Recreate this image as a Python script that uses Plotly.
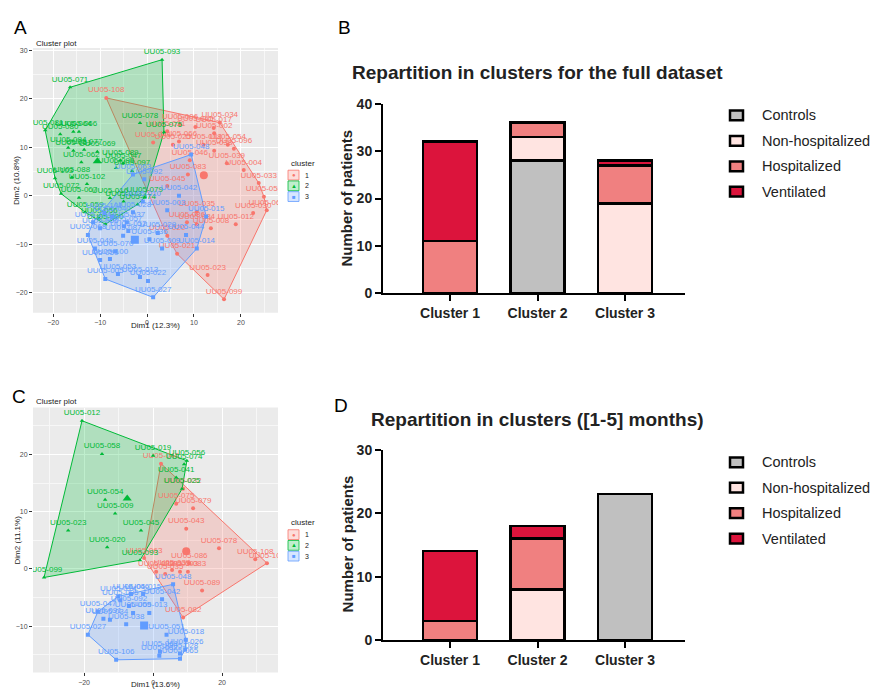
import plotly.graph_objects as go

W, H = 882, 697

# ---------------- DATA ----------------
clusters = ["Cluster 1", "Cluster 2", "Cluster 3"]
groups = ["Controls", "Non-hospitalized", "Hospitalized", "Ventilated"]
group_colors = ["#C0C0C0", "#FFE4E1", "#F08080", "#DC143C"]

full_controls = [0, 28, 0]
full_nonhosp = [0, 5, 19]
full_hosp = [11, 3, 8]
full_vent = [21, 0, 1]

m15_controls = [0, 0, 23]
m15_nonhosp = [0, 8, 0]
m15_hosp = [3, 8, 0]
m15_vent = [11, 2, 0]

# Panel A (full dataset PCA)
a1_lab = ["UU05-108", "UU05-034", "UU05-017", "UU05-002", "UU05-006", "UU05-065", "UU05-031", "UU05-041",
          "UU05-025", "UU05-066", "UU05-018", "UU05-054", "UU05-096", "UU05-038", "UU05-039", "UU05-004",
          "UU05-033", "UU05-058", "UU05-060", "UU05-046", "UU05-083", "UU05-045", "UU05-035", "UU05-012",
          "UU05-030", "UU05-008", "UU05-086", "UU05-084", "UU05-020", "UU05-023", "UU05-099", "UU05-021"]
a1_x = [-8.7, 15.5, 14.2, 14.3, 7.0, 10.3, 4.3, 1.3, 5.5, 6.8, 12.0, 17.2, 18.5, 14.3, 17.0, 20.6,
        23.8, 24.9, 25.5, 9.1, 8.7, 4.3, 10.6, 18.9, 22.6, 13.6, 8.5, 10.6, 4.3, 12.9, 16.4, 6.4]
a1_y = [20.2, 15.1, 14.0, 12.9, 14.7, 14.2, 13.3, 11.0, 10.5, 11.2, 10.5, 10.5, 9.7, 9.3, 6.7, 5.3,
        2.6, -0.2, -3.0, 7.3, 4.4, 2.0, -3.3, -5.9, -3.6, -6.7, -5.5, -5.9, -8.3, -16.4, -21.4, -12.0]

a2_lab = ["UU05-093", "UU05-071", "UU05-078", "UU05-075", "UU05-081", "UU05-080", "UU05-064", "UU05-066",
          "UU05-077", "UU05-061", "UU05-094", "UU05-062", "UU05-089", "UU05-047", "UU05-095", "UU05-069",
          "UU05-103", "UU05-088", "UU05-102", "UU05-072", "UU05-067", "UU05-059", "UU05-090", "UU05-016",
          "UU05-073", "UU05-074", "UU05-079", "UU05-097", "UU05-056"]
a2_x = [3.2, -16.4, -1.5, 3.6, -21.7, -18.5, -15.7, -14.5, -13.4, -15.7, -16.8, -14.0, -5.7, -5.1, -6.6, -10.6,
        -19.6, -16.0, -12.8, -18.3, -14.5, -13.2, -8.9, -7.9, -5.0, -2.0, -0.5, -3.2, -10.2]
a2_y = [28.1, 22.4, 15.0, 13.1, 13.5, 12.7, 13.2, 13.2, 9.5, 9.3, 9.9, 6.9, 7.3, 6.7, 5.7, 9.1,
        3.6, 3.8, 2.4, 0.4, -0.4, -3.4, -5.9, -0.5, -1.2, -1.8, -0.3, 5.1, -4.7]

a3_lab = ["UU05-048", "UU05-092", "UU05-063", "UU05-042", "UU05-015", "UU05-003", "UU05-044", "UU05-014",
          "UU05-029", "UU05-009", "UU05-027", "UU05-022", "UU05-013", "UU05-053", "UU05-005", "UU05-070",
          "UU05-049", "UU05-050", "UU05-100", "UU05-104", "UU05-068", "UU05-037", "UU05-057", "UU05-087",
          "UU05-028", "UU05-010", "UU05-052", "UU05-101", "UU05-040", "UU05-055", "UU05-036"]
a3_x = [9.4, -0.6, -3.0, 6.8, 12.6, 4.3, 8.3, 10.6, 2.3, 3.2, 1.3, 0.2, -1.5, -6.2, -8.9, -6.8,
        -11.1, -10.0, -7.9, -11.5, -12.6, -4.3, -4.9, -5.1, -3.0, -0.9, -4.0, -9.1, -7.4, -10.0, 0.5]
a3_y = [8.5, 3.4, 4.4, 0.0, -4.3, -3.0, -8.1, -10.9, -7.7, -10.9, -21.0, -17.6, -16.8, -16.2, -17.2, -11.5,
        -10.9, -13.3, -13.1, -5.5, -8.1, -5.5, -6.3, -8.3, -3.4, -1.2, -7.3, -3.6, -4.3, -6.7, -9.0]
a_centers_x = [12.1, -10.6, -2.6]
a_centers_y = [4.2, 7.1, -9.1]

# Panel C ([1-5] months PCA)
c1_lab = ["UU05-040", "UU05-032", "UU05-075", "UU05-079", "UU05-043", "UU05-078", "UU05-108", "UU05-107",
          "UU05-033", "UU05-035", "UU05-037", "UU05-003", "UU05-083", "UU05-086", "UU05-089", "UU05-082", "UU05-063"]
c1_x = [2.3, 8.7, 6.7, 11.6, 9.6, 19.1, 29.6, 33.0, 0.9, 3.5, 5.5, 7.8, 10.1, 10.5, 14.2, 8.7, -2.6]
c1_y = [18.4, 14.0, 11.4, 10.6, 7.0, 3.6, 1.7, 1.0, -0.5, -0.9, -0.2, -0.5, -0.5, 1.0, -3.8, -8.5, 1.9]

c2_lab = ["UU05-012", "UU05-058", "UU05-019", "UU05-056", "UU05-074", "UU05-041", "UU05-025", "UU05-054",
          "UU05-009", "UU05-023", "UU05-045", "UU05-020", "UU05-093", "UU05-099"]
c2_x = [-20.6, -14.8, 0.0, 9.8, 9.0, 6.7, 8.4, -13.9, -11.0, -24.6, -3.5, -13.3, -3.8, -31.6]
c2_y = [25.9, 20.1, 19.8, 18.9, 18.3, 16.0, 14.0, 12.1, 9.7, 6.7, 6.7, 3.8, 1.5, -1.5]

c3_lab = ["UU05-048", "UU05-042", "UU05-014", "UU05-046", "UU05-015", "UU05-092", "UU05-013", "UU05-059",
          "UU05-034", "UU05-091", "UU05-038", "UU05-027", "UU05-051", "UU05-018", "UU05-026", "UU05-028",
          "UU05-061", "UU05-062", "UU05-106", "UU05-065", "UU05-047", "UU05-005"]
c3_x = [5.8, 2.6, -10.1, -6.4, -2.9, -7.0, -1.1, -5.8, -12.5, -14.4, -7.8, -18.9, 3.9, 9.5, 9.3, 7.8,
        2.0, 1.8, -10.7, 7.8, -16.0, -9.5]
c3_y = [-2.7, -5.3, -4.8, -4.4, -4.4, -6.5, -7.7, -7.7, -8.9, -8.7, -9.7, -11.5, -11.5, -12.4, -14.1, -14.8,
        -14.5, -15.2, -15.9, -15.7, -7.5, -5.5]
c_centers_x = [9.6, -7.5, -2.6]
c_centers_y = [3.1, 12.3, -9.9]

# ---------------- HELPERS ----------------
def px(x):
    return x / W


def py(y):
    return 1 - y / H


def hull(xs, ys):
    pts = sorted(set(zip(xs, ys)))
    if len(pts) < 3:
        return pts

    def cross(o, a, b):
        return (a[0] - o[0]) * (b[1] - o[1]) - (a[1] - o[1]) * (b[0] - o[0])
    lower, upper = [], []
    for p in pts:
        while len(lower) >= 2 and cross(lower[-2], lower[-1], p) <= 0:
            lower.pop()
        lower.append(p)
    for p in reversed(pts):
        while len(upper) >= 2 and cross(upper[-2], upper[-1], p) <= 0:
            upper.pop()
        upper.append(p)
    h = lower[:-1] + upper[:-1]
    return h + [h[0]]


FONT = "Liberation Sans, Arial, sans-serif"
cl_colors = ["#F8766D", "#00BA38", "#619CFF"]
cl_fill = ["rgba(248,118,109,0.25)", "rgba(0,186,56,0.25)", "rgba(97,156,255,0.25)"]
cl_sym = ["circle", "triangle-up", "square"]

fig = go.Figure()


def add_cluster_panel(xa, ya, data, centers):
    for k, (xs, ys, labs) in enumerate(data):
        hp = hull(xs, ys)
        fig.add_trace(go.Scatter(x=[p[0] for p in hp], y=[p[1] for p in hp], mode="lines", fill="toself",
                                 fillcolor=cl_fill[k], line=dict(color=cl_colors[k], width=1),
                                 xaxis=xa, yaxis=ya, showlegend=False, hoverinfo="skip"))
    for k, (xs, ys, labs) in enumerate(data):
        fig.add_trace(go.Scatter(x=xs, y=ys, mode="markers+text", text=labs, textposition="top center",
                                 textfont=dict(size=8, color=cl_colors[k], family=FONT),
                                 marker=dict(symbol=cl_sym[k], size=4, color=cl_colors[k]),
                                 xaxis=xa, yaxis=ya, showlegend=False))
        fig.add_trace(go.Scatter(x=[centers[0][k]], y=[centers[1][k]], mode="markers",
                                 marker=dict(symbol=cl_sym[k], size=8, color=cl_colors[k]),
                                 xaxis=xa, yaxis=ya, showlegend=False))


add_cluster_panel("x", "y", [(a1_x, a1_y, a1_lab), (a2_x, a2_y, a2_lab), (a3_x, a3_y, a3_lab)],
                  (a_centers_x, a_centers_y))
add_cluster_panel("x3", "y3", [(c1_x, c1_y, c1_lab), (c2_x, c2_y, c2_lab), (c3_x, c3_y, c3_lab)],
                  (c_centers_x, c_centers_y))

# bars
full = [full_controls, full_nonhosp, full_hosp, full_vent]
m15 = [m15_controls, m15_nonhosp, m15_hosp, m15_vent]
for xa, ya, dataset in [("x2", "y2", full), ("x4", "y4", m15)]:
    for g, vals, col in zip(groups, dataset, group_colors):
        fig.add_trace(go.Bar(x=[0, 1, 2], y=[v if v else None for v in vals], name=g, width=0.62,
                             marker=dict(color=col, line=dict(color="black", width=2.5)),
                             xaxis=xa, yaxis=ya, showlegend=False))

grid_common = dict(showgrid=True, gridcolor="white", gridwidth=1, zeroline=False, showline=False,
                   ticks="outside", ticklen=3, tickcolor="#333333", tickwidth=0.8,
                   tickfont=dict(size=7, color="#4D4D4D", family=FONT))

bar_x = dict(range=[-0.766, 2.686], tickvals=[0, 1, 2], ticktext=clusters, showline=True, linecolor="black",
             linewidth=2, ticks="outside", ticklen=6, tickwidth=2, tickcolor="black", showgrid=False,
             zeroline=False, tickfont=dict(size=14, color="#222", family=FONT, weight="bold"))
bar_y_common = dict(showline=True, linecolor="black", linewidth=2, ticks="outside", ticklen=6, tickwidth=2,
                    tickcolor="black", showgrid=False, zeroline=False,
                    tickfont=dict(size=14, color="#222", family=FONT, weight="bold"))

fig.update_layout(
    width=W, height=H, margin=dict(l=0, r=0, t=0, b=0), paper_bgcolor="white", plot_bgcolor="white",
    barmode="stack", showlegend=False, font=dict(family=FONT),
    xaxis=dict(domain=[px(33), px(278)], range=[-24.3, 27.9], tickvals=[-20, -10, 0, 10, 20],
               minor=dict(dtick=5, showgrid=True, gridcolor="#F7F7F7", gridwidth=0.5), anchor="y", **grid_common),
    yaxis=dict(domain=[py(312), py(41)], range=[-24.2, 30.5], tickvals=[-20, -10, 0, 10, 20, 30],
               minor=dict(dtick=5, showgrid=True, gridcolor="#F7F7F7", gridwidth=0.5), anchor="x", **grid_common),
    xaxis3=dict(domain=[px(33), px(278)], range=[-34.8, 36.2], tickvals=[-20, 0, 20],
                minor=dict(dtick=10, showgrid=True, gridcolor="#F7F7F7", gridwidth=0.5), anchor="y3", **grid_common),
    yaxis3=dict(domain=[py(680), py(409)], range=[-18.1, 28.2], tickvals=[-10, 0, 10, 20],
                minor=dict(dtick=5, showgrid=True, gridcolor="#F7F7F7", gridwidth=0.5), anchor="x3", **grid_common),
    xaxis2=dict(domain=[px(383), px(685)], anchor="y2", **bar_x),
    yaxis2=dict(domain=[py(292), py(98)], range=[0, 40], tickvals=[0, 10, 20, 30, 40], anchor="x2", **bar_y_common),
    xaxis4=dict(domain=[px(383), px(685)], anchor="y4", **bar_x),
    yaxis4=dict(domain=[py(647), py(452)], range=[0, 30], tickvals=[0, 10, 20, 30], anchor="x4", **bar_y_common),
)

ann = []
shapes = []

# gray ggplot panel backgrounds (below gridlines)
for xr, yr in [("x domain", "y domain"), ("x3 domain", "y3 domain")]:
    shapes.append(dict(type="rect", xref=xr, yref=yr, x0=0, x1=1, y0=0, y1=1, fillcolor="#EBEBEB",
                       line=dict(width=0), layer="below"))


def text(x, y, t, size, color="black", bold=False, angle=0, xanchor="center", yanchor="middle"):
    ann.append(dict(x=px(x), y=py(y), xref="paper", yref="paper", text=t, showarrow=False, textangle=angle,
                    xanchor=xanchor, yanchor=yanchor,
                    font=dict(size=size, color=color, family=FONT, weight="bold" if bold else "normal")))


# panel letters
text(12, 20, "A", 19, xanchor="left")
text(336, 20, "B", 19, xanchor="left")
text(10, 398, "C", 19, xanchor="left")
text(332, 407, "D", 19, xanchor="left")

# cluster plot texts
for (tx, ty, dx, dy, dimlab1, dimlab2, d2y, legy) in [(34, 36, 155, 325, "Dim1 (12.3%)", "Dim2 (10.8%)", 177, 159),
                                                     (34, 403, 155, 692, "Dim1 (13.6%)", "Dim2 (11.1%)", 545, 527)]:
    text(tx, ty, "Cluster plot", 8, color="#222", xanchor="left")
    text(dx, dy, dimlab1, 8, color="#222")
    text(17, d2y, dimlab2, 8, color="#222", angle=-90)
    text(289, legy, "cluster", 8, color="#222", xanchor="left")
    for k in range(3):
        yy = legy + 12 + k * 11
        shapes.append(dict(type="rect", xref="paper", yref="paper", x0=px(288), x1=px(299),
                           y0=py(yy - 5), y1=py(yy + 5), fillcolor=cl_fill[k],
                           line=dict(color=cl_colors[k], width=0.8)))
        text(293.5, yy, ["●", "▲", "■"][k], 6, color=cl_colors[k])
        text(303, yy, str(k + 1), 7, color="#222", xanchor="left")

# bar chart titles
text(537, 66, "Repartition in clusters for the full dataset", 19, color="#222", bold=True)
text(537, 421, "Repartition in clusters ([1-5] months)", 19, color="#222", bold=True)
text(347, 195, "Number of patients", 15, color="#222", bold=True, angle=-90)
text(347, 549, "Number of patients", 15, color="#222", bold=True, angle=-90)

# bar legends
for base in [110, 465]:
    for i, (g, c) in enumerate(zip(groups, group_colors)):
        yy = base + i * 26
        shapes.append(dict(type="rect", xref="paper", yref="paper", x0=px(730), x1=px(743),
                           y0=py(yy + 5), y1=py(yy - 5), fillcolor=c, line=dict(color="black", width=2.5)))
        text(760, yy, g, 14.5, color="#222", xanchor="left")

fig.update_layout(annotations=ann, shapes=shapes)
fig.write_html("out.html")
